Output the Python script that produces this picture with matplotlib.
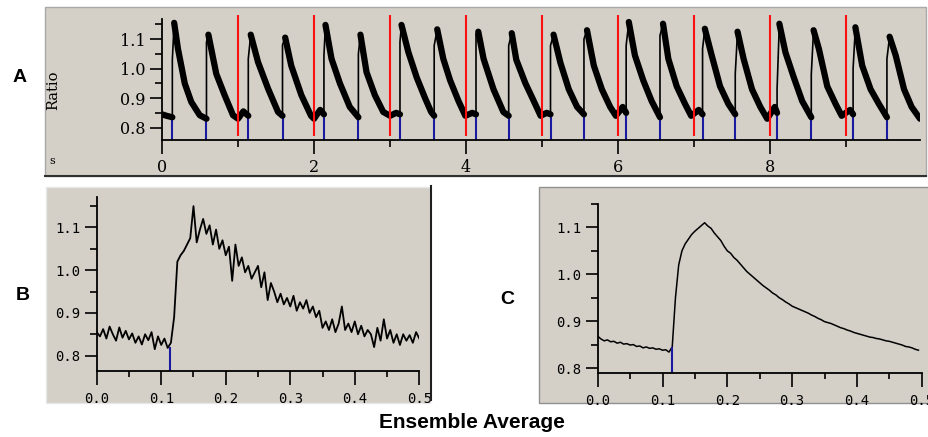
import matplotlib
matplotlib.use("Agg")
import matplotlib.pyplot as plt
import numpy as np
from matplotlib.patches import Rectangle
from matplotlib.lines import Line2D
from matplotlib.ticker import MultipleLocator, FormatStrFormatter

W, H = 929, 437
PANEL_BG = '#d4d0c8'

# ---- panel A: 10 s recording, 20 transients ----
a_onset = [0.136, 0.585, 1.135, 1.585, 2.13, 2.583, 3.13, 3.58, 4.13, 4.56,
           5.11, 5.55, 6.105, 6.55, 7.11, 7.54, 8.09, 8.54, 9.09, 9.535]
a_step = [1.03, 1.09, 1.033, 1.08, 1.045, 1.05, 1.09, 1.078, 1.118, 1.078,
          1.078, 1.10, 1.078, 1.112, 1.067, 0.982, 0.93, 0.98, 1.0, 1.033]
a_base_t = [0.0, 0.06, 0.136]
a_base_v = [0.845, 0.84, 0.835]
# decay of each transient, from its peak to the next onset
a_decay_t = [
    [0.16, 0.21, 0.30, 0.385, 0.496, 0.585],
    [0.61, 0.714, 0.825, 0.934, 1.0, 1.07, 1.135],
    [1.167, 1.263, 1.395, 1.526, 1.585],
    [1.62, 1.70, 1.833, 1.96, 2.0, 2.08, 2.13],
    [2.15, 2.23, 2.34, 2.47, 2.583],
    [2.61, 2.69, 2.80, 2.91, 3.0, 3.08, 3.13],
    [3.15, 3.24, 3.35, 3.46, 3.54, 3.58],
    [3.62, 3.70, 3.79, 3.90, 3.99, 4.08, 4.13],
    [4.16, 4.23, 4.36, 4.49, 4.56],
    [4.6, 4.66, 4.78, 4.89, 4.98, 5.06, 5.11],
    [5.15, 5.24, 5.35, 5.46, 5.55],
    [5.59, 5.68, 5.785, 5.895, 5.97, 6.06, 6.105],
    [6.14, 6.22, 6.33, 6.44, 6.55],
    [6.59, 6.66, 6.77, 6.88, 6.96, 7.06, 7.11],
    [7.14, 7.23, 7.34, 7.45, 7.54],
    [7.57, 7.65, 7.76, 7.87, 7.96, 8.06, 8.09],
    [8.12, 8.20, 8.31, 8.42, 8.54],
    [8.57, 8.64, 8.75, 8.86, 8.94, 9.05, 9.09],
    [9.12, 9.21, 9.32, 9.43, 9.535],
    [9.57, 9.65, 9.76, 9.86, 9.97],
]
a_decay_v = [
    [1.155, 1.067, 0.949, 0.887, 0.842, 0.83],
    [1.115, 0.982, 0.909, 0.842, 0.83, 0.855, 0.84],
    [1.115, 1.022, 0.932, 0.853, 0.84],
    [1.105, 1.01, 0.91, 0.84, 0.83, 0.86, 0.845],
    [1.148, 1.033, 0.95, 0.87, 0.835],
    [1.115, 0.988, 0.91, 0.853, 0.84, 0.85, 0.845],
    [1.148, 1.056, 0.97, 0.90, 0.853, 0.84],
    [1.133, 1.033, 0.96, 0.89, 0.84, 0.85, 0.845],
    [1.125, 1.033, 0.93, 0.853, 0.84],
    [1.12, 1.03, 0.95, 0.89, 0.84, 0.85, 0.845],
    [1.115, 1.02, 0.93, 0.87, 0.845],
    [1.13, 1.01, 0.93, 0.87, 0.84, 0.87, 0.85],
    [1.158, 1.045, 0.96, 0.89, 0.835],
    [1.152, 1.033, 0.94, 0.88, 0.84, 0.86, 0.845],
    [1.135, 1.045, 0.94, 0.88, 0.845],
    [1.125, 1.033, 0.93, 0.87, 0.83, 0.87, 0.85],
    [1.152, 1.055, 0.97, 0.89, 0.835],
    [1.13, 1.067, 0.94, 0.88, 0.84, 0.86, 0.845],
    [1.14, 1.01, 0.93, 0.88, 0.835],
    [1.108, 1.045, 0.93, 0.87, 0.83],
]
a_marks = [1, 2, 3, 4, 5, 6, 7, 8, 9]
a_stim_top = 0.843

# ---- panels B and C: ensemble averages, 5 ms samples ----
b_ratio = [0.855, 0.845, 0.862, 0.840, 0.868, 0.850, 0.835, 0.866, 0.842, 0.858,
           0.838, 0.852, 0.830, 0.845, 0.826, 0.850, 0.836, 0.855, 0.815, 0.845,
           0.825, 0.840, 0.818, 0.830, 0.890, 1.020, 1.035, 1.045, 1.060, 1.075,
           1.150, 1.065, 1.095, 1.120, 1.085, 1.105, 1.060, 1.095, 1.050, 1.070,
           1.035, 1.055, 0.975, 1.060, 1.010, 1.030, 0.995, 1.010, 0.980, 0.995,
           1.010, 0.960, 0.995, 0.930, 0.970, 0.950, 0.925, 0.945, 0.920, 0.935,
           0.915, 0.940, 0.905, 0.925, 0.910, 0.930, 0.900, 0.915, 0.890, 0.905,
           0.865, 0.880, 0.860, 0.885, 0.855, 0.875, 0.915, 0.860, 0.875, 0.855,
           0.880, 0.850, 0.870, 0.845, 0.860, 0.850, 0.820, 0.865, 0.835, 0.885,
           0.840, 0.860, 0.830, 0.850, 0.825, 0.850, 0.835, 0.848, 0.830, 0.855,
           0.840]
c_ratio = [0.868, 0.862, 0.858, 0.860, 0.856, 0.857, 0.853, 0.855, 0.851, 0.852,
           0.849, 0.850, 0.846, 0.847, 0.843, 0.845, 0.842, 0.843, 0.840, 0.841,
           0.838, 0.839, 0.834, 0.845, 0.950, 1.020, 1.050, 1.065, 1.075, 1.085,
           1.092, 1.098, 1.104, 1.110, 1.103, 1.098, 1.088, 1.080, 1.072, 1.060,
           1.050, 1.045, 1.036, 1.030, 1.022, 1.014, 1.006, 1.000, 0.994, 0.988,
           0.982, 0.976, 0.971, 0.966, 0.960, 0.956, 0.950, 0.946, 0.941, 0.937,
           0.932, 0.929, 0.926, 0.923, 0.920, 0.917, 0.913, 0.910, 0.906, 0.903,
           0.899, 0.897, 0.895, 0.892, 0.889, 0.886, 0.884, 0.881, 0.879, 0.876,
           0.874, 0.872, 0.870, 0.868, 0.866, 0.865, 0.863, 0.862, 0.860, 0.858,
           0.857, 0.855, 0.853, 0.851, 0.849, 0.846, 0.845, 0.843, 0.840, 0.838]
sample_dt = 0.005
stim_t = 0.114
b_stim_top = 0.821
c_stim_top = 0.845

fig = plt.figure(figsize=(W / 100, H / 100), dpi=100)


def fx(x):
    return x / W


def fy(y):
    return 1 - y / H


def panel_box(left, top, right, bottom, edge):
    fig.patches.append(Rectangle((fx(left), fy(bottom)), (right - left) / W,
                                 (bottom - top) / H, transform=fig.transFigure,
                                 facecolor=PANEL_BG, edgecolor=edge, lw=1,
                                 zorder=-2))


def make_axes(left, top, right, bottom):
    ax = fig.add_axes([fx(left), fy(bottom), (right - left) / W, (bottom - top) / H])
    ax.patch.set_visible(False)
    ax.spines['top'].set_visible(False)
    ax.spines['right'].set_visible(False)
    ax.spines['left'].set_linewidth(1.3)
    ax.spines['bottom'].set_linewidth(1.3)
    return ax


# panel frames
panel_box(45, 7, 926, 176, '#a8a8a8')
fig.lines.append(Line2D([fx(45), fx(926)], [fy(175.5), fy(175.5)],
                        transform=fig.transFigure, color='#303030', lw=1.5))
panel_box(46, 187, 430, 403, '#e8e8e8')
fig.lines.append(Line2D([fx(431), fx(431)], [fy(186), fy(400)],
                        transform=fig.transFigure, color='#202020', lw=1.5))
panel_box(539, 187, 929, 403, '#909090')

# ---- A ----
ax = make_axes(162, 19, 920, 140)
ax.plot(a_base_t, a_base_v, color='black', lw=4.5, solid_capstyle='round')
prev = a_base_v[-1]
for i in range(len(a_onset)):
    ax.plot([a_onset[i], a_onset[i], a_decay_t[i][0]], [prev, a_step[i], a_decay_v[i][0]],
            color='black', lw=1.2)
    ax.plot(a_decay_t[i], a_decay_v[i], color='black', lw=4.5,
            solid_joinstyle='round', solid_capstyle='round')
    prev = a_decay_v[i][-1]
ax.vlines(a_onset, 0.758, a_stim_top, color='#1a1aa0', lw=1.5, zorder=1)
ax.vlines(a_marks, 0.77, 1.18, color='#ff1010', lw=1.5, zorder=4, clip_on=False)
ax.set_xlim(0, 9.97)
ax.set_ylim(0.758, 1.168)
ax.set_xticks([0, 2, 4, 6, 8])
ax.xaxis.set_minor_locator(MultipleLocator(1))
ax.set_yticks([0.8, 0.9, 1.0, 1.1])
ax.yaxis.set_minor_locator(MultipleLocator(0.05))
ax.yaxis.set_major_formatter(FormatStrFormatter('%.1f'))
ax.tick_params(axis='x', which='major', length=10, width=1.2, pad=4)
ax.tick_params(axis='x', which='minor', length=5, width=1.2)
ax.tick_params(axis='y', which='major', length=9, width=1.2, pad=3)
ax.tick_params(axis='y', which='minor', length=5, width=1.2)
for lab in ax.get_xticklabels() + ax.get_yticklabels():
    lab.set_fontfamily('DejaVu Serif')
    lab.set_fontsize(11.5)
fig.text(fx(53), fy(90), 'Ratio', rotation=90, ha='center', va='center',
         family='DejaVu Serif', fontsize=10.5)
fig.text(fx(52), fy(161), 's', ha='center', va='center', family='DejaVu Serif', fontsize=8)

# ---- B and C ----
for box, ratio, ylim, top_mark, lw in [((96.7, 196.7, 419.3, 371), b_ratio, (0.764, 1.172), b_stim_top, 1.3),
                                        ((597.7, 204, 921.7, 372.7), c_ratio, (0.79, 1.15), c_stim_top, 1.1)]:
    ax = make_axes(*box)
    t = np.arange(len(ratio)) * sample_dt
    ax.plot(t, ratio, color='black', lw=lw)
    ax.vlines([stim_t], ylim[0], top_mark, color='#1a1aa0', lw=1.5)
    ax.set_xlim(0, 0.5)
    ax.set_ylim(*ylim)
    ax.set_xticks([0, 0.1, 0.2, 0.3, 0.4, 0.5])
    ax.xaxis.set_minor_locator(MultipleLocator(0.05))
    ax.set_yticks([0.8, 0.9, 1.0, 1.1])
    ax.yaxis.set_minor_locator(MultipleLocator(0.05))
    ax.xaxis.set_major_formatter(FormatStrFormatter('%.1f'))
    ax.yaxis.set_major_formatter(FormatStrFormatter('%.1f'))
    ax.tick_params(axis='x', which='major', length=10, width=1.2, pad=5)
    ax.tick_params(axis='x', which='minor', length=4.5, width=1.2)
    ax.tick_params(axis='y', which='major', length=9, width=1.2, pad=3)
    ax.tick_params(axis='y', which='minor', length=5, width=1.2)
    for lab in ax.get_xticklabels() + ax.get_yticklabels():
        lab.set_fontfamily('DejaVu Sans Mono')
        lab.set_fontsize(10)

# panel letters and caption
for letter, x, y in [('A', 20, 78), ('B', 23, 295), ('C', 507, 300)]:
    fig.text(fx(x), fy(y), letter, ha='center', va='center',
             family='Liberation Sans', fontweight='bold', fontsize=14)
fig.text(fx(472), fy(423), 'Ensemble Average', ha='center', va='center',
         family='Liberation Sans', fontweight='bold', fontsize=15)

fig.savefig('out.png', dpi=100)
